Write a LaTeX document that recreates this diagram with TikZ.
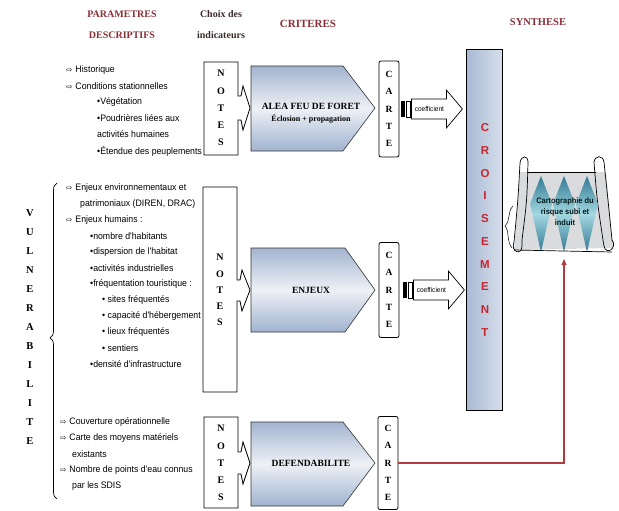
\documentclass[tikz,border=0pt]{standalone}
\usepackage{fontspec}
\setmainfont{Liberation Serif}
\newfontfamily\listfont[FakeStretch=0.93]{Liberation Sans}
\newfontfamily\symfont{DejaVu Sans}
\newfontfamily\barfont{Liberation Sans}
\usetikzlibrary{decorations.pathreplacing,arrows.meta,calc}

\definecolor{hdred}{HTML}{8A2E35}
\definecolor{hddark}{HTML}{3B2A2A}
\definecolor{critop}{HTML}{A3B4CF}
\definecolor{crimid}{HTML}{EEF1F6}
\definecolor{crbot}{HTML}{A0B3CF}
\definecolor{barleft}{HTML}{A9BAD4}
\definecolor{barright}{HTML}{D6DEEA}
\definecolor{crossred}{HTML}{C8262E}
\definecolor{linkred}{HTML}{B13A3C}
\definecolor{scrollgray}{HTML}{D9DBDD}
\definecolor{tealdark}{HTML}{1F6E8C}
\definecolor{teallight}{HTML}{9ED8E2}

\tikzset{
  hdr/.style={font=\bfseries\fontsize{10}{21}\selectfont, align=center, inner sep=0pt},
  listtxt/.style={font=\listfont\fontsize{9.4}{10}\selectfont, anchor=west, inner sep=0pt},
  letters/.style={font=\bfseries\fontsize{10}{17.2}\selectfont, align=center, inner sep=0pt},
  notesbox/.style={draw=black, line width=0.8pt, fill=white},
  cartebox/.style={draw=black, line width=0.8pt, rounded corners=2pt, fill=white, minimum width=20pt, inner sep=0pt},
  critshape/.style={draw=black!80, line width=0.6pt, top color=critop, bottom color=crbot, middle color=crimid},
  critlabel/.style={font=\bfseries\fontsize{9.5}{15}\selectfont, align=center, inner sep=0pt},
  coefarrow/.style={draw=black, line width=0.7pt, fill=white},
  redlink/.style={draw=linkred, line width=1.4pt},
  pics/coef/.style={code={
    \fill[black] (0,-8) rectangle (4,8);
    \draw[line width=0.6pt] (5,-8) rectangle (9,8);
    \draw[coefarrow] (10,-10) -- (45,-10) -- (45,-19) -- (61,0) -- (45,19) -- (45,10) -- (10,10) -- cycle;
    \node[font=\listfont\fontsize{7}{7}\selectfont, inner sep=0pt] at (28,0) {coefficient};
  }}
}

\begin{document}
\begin{tikzpicture}[x=1pt,y=-1pt]
\useasboundingbox (0,0) rectangle (619,511);

% column headings
\node[hdr, text=hdred] (hpar) at (122,25) {PARAMETRES\\DESCRIPTIFS};
\node[hdr, text=hddark] (hchoix) at (221,25) {Choix des\\indicateurs};
\node[hdr, text=hdred, font=\bfseries\fontsize{11}{12}\selectfont] (hcrit) at (308,24) {CRITERES};
\node[hdr, text=hdred, font=\bfseries\fontsize{10.5}{12}\selectfont] (hsyn) at (538,22) {SYNTHESE};

% descriptive parameters, first group
\newcommand{\arw}{{\symfont\fontsize{7.5}{7}\selectfont ⇨}\hspace{3pt}}
\node[listtxt] (p1) at (66,70) {\arw Historique};
\node[listtxt] (p2) at (66,86) {\arw Conditions stationnelles};
\node[listtxt] (p3) at (97,102) {•Végétation};
\node[listtxt] (p4) at (97,118) {•Poudrières liées aux};
\node[listtxt] (p5) at (97,134) {activités humaines};
\node[listtxt] (p6) at (97,151) {•Étendue des peuplements};

% second group
\node[listtxt] (q1) at (66,188) {\arw Enjeux environnementaux et};
\node[listtxt] (q2) at (80,204) {patrimoniaux (DIREN, DRAC)};
\node[listtxt] (q3) at (66,220) {\arw Enjeux humains :};
\node[listtxt] (q4) at (90,236) {•nombre d'habitants};
\node[listtxt] (q5) at (90,252) {•dispersion de l'habitat};
\node[listtxt] (q6) at (90,268) {•activités industrielles};
\node[listtxt] (q7) at (90,284) {•fréquentation touristique :};
\node[listtxt] (q8) at (102,300) {• sites fréquentés};
\node[listtxt] (q9) at (102,316) {• capacité d'hébergement};
\node[listtxt] (q10) at (102,332) {• lieux fréquentés};
\node[listtxt] (q11) at (102,348) {• sentiers};
\node[listtxt] (q12) at (90,364) {•densité d'infrastructure};

% third group
\node[listtxt] (r1) at (60,422) {\arw Couverture opérationnelle};
\node[listtxt] (r2) at (60,438) {\arw Carte des moyens matériels};
\node[listtxt] (r3) at (72,454) {existants};
\node[listtxt] (r4) at (60,470) {\arw Nombre de points d'eau connus};
\node[listtxt] (r5) at (72,486) {par les SDIS};

% vulnerability brace and label
\draw[line width=0.7pt, decorate, decoration={brace, amplitude=7pt, aspect=0.51}]
  (57,499) -- (57,183);
\node[letters, font=\bfseries\fontsize{10.5}{19}\selectfont] (vul) at (30,327)
  {V\\U\\L\\N\\E\\R\\A\\B\\I\\L\\I\\T\\E};

% indicator boxes with their small arrow tips
\draw[notesbox] (204,62) -- (238,62) -- (238,96) -- (241,96) -- (243,86) -- (250,108)
  -- (243,130) -- (241,120) -- (238,120) -- (238,155) -- (204,155) -- cycle;
\node[letters] (notes1) at (221,108) {N\\O\\T\\E\\S};

\draw[notesbox] (203,187) -- (237,187) -- (237,280) -- (240,280) -- (242,270) -- (250,290)
  -- (242,311) -- (240,301) -- (237,301) -- (237,392) -- (203,392) -- cycle;
\node[letters, font=\bfseries\fontsize{10}{16.2}\selectfont] (notes2) at (220,290) {N\\O\\T\\E\\S};

\draw[notesbox] (204,417) -- (238,417) -- (238,452) -- (241,452) -- (243,442) -- (250,463)
  -- (243,484) -- (241,474) -- (238,474) -- (238,508) -- (204,508) -- cycle;
\node[letters] (notes3) at (221,463) {N\\O\\T\\E\\S};

% criteria
\path[critshape] (251,66) -- (343,66) -- (375,108) -- (343,151) -- (251,151) -- cycle;
\node[critlabel] (alea) at (311,113) {ALEA FEU DE FORET\\[-3pt]{\fontsize{8}{10}\selectfont Éclosion + propagation}};

\path[critshape] (251,248) -- (345,248) -- (375,290) -- (345,332) -- (251,332) -- cycle;
\node[critlabel] (enjeux) at (311,290) {ENJEUX};

\path[critshape] (251,422) -- (343,422) -- (375,463) -- (343,506) -- (251,506) -- cycle;
\node[critlabel] (defend) at (311,463) {DEFENDABILITE};

% maps
\node[cartebox, minimum height=96pt] (carte1) at (389,109) {};
\node[letters, font=\bfseries\fontsize{9.5}{17.2}\selectfont] at (carte1) {C\\A\\R\\T\\E};
\node[cartebox, minimum height=95pt] (carte2) at (389,290) {};
\node[letters, font=\bfseries\fontsize{9.5}{17.2}\selectfont] at (carte2) {C\\A\\R\\T\\E};
\node[cartebox, minimum height=93pt] (carte3) at (388,463) {};
\node[letters, font=\bfseries\fontsize{9.5}{17.2}\selectfont] at (carte3) {C\\A\\R\\T\\E};

% crossing bar
\node[draw=black, line width=0.8pt, left color=barleft, right color=barright,
      minimum width=36pt, minimum height=361pt, inner sep=0pt] (crois) at (484,230) {};
\node[font=\barfont\bfseries\fontsize{11.5}{22.7}\selectfont, text=crossred, align=center, inner sep=0pt]
  (croislbl) at (485,230) {C\\R\\O\\I\\S\\E\\M\\E\\N\\T};

% weighted links into the crossing
\pic at ($(carte1.east)+(2,0)$) {coef};
\pic at ($(carte2.east)+(4,0)$) {coef};

% synthesis scroll
\node[minimum width=106pt, minimum height=100pt, inner sep=0pt] (scroll) at (564,208) {};
\begin{scope}
  \fill[scrollgray] (520,172) -- (606,172) -- (613,248) -- (514,250) -- cycle;
  \draw[line width=0.7pt] (527,172) -- (596,172);
  \draw[line width=0.7pt] (520,163) .. controls (518,200) .. (514,242);
  \draw[line width=0.7pt] (528,162) .. controls (527,200) .. (522,240);
  \draw[line width=0.7pt] (520,163) .. controls (521,155) and (528,155) .. (528,162);
  \draw[line width=0.7pt] (594,162) .. controls (597,200) .. (603,240);
  \draw[line width=0.7pt] (604,162) .. controls (608,200) .. (612,240);
  \draw[line width=0.7pt] (594,162) .. controls (595,155) and (603,155) .. (604,162);
  \draw[line width=0.7pt] (514,242) .. controls (510,252) and (522,256) .. (522,246) -- (522,240);
  \draw[line width=0.7pt] (612,240) .. controls (618,248) and (606,256) .. (604,246) -- (603,240);
  \draw[line width=0.7pt] (514,250) -- (612,252);
  \draw[line width=0.5pt] (513,206) .. controls (507,212) and (511,220) .. (505,226)
    .. controls (510,232) and (506,240) .. (512,248);
  \foreach \cx in {541,564,587}{
    \shade[top color=tealdark, bottom color=tealdark, middle color=teallight, opacity=0.9]
      (\cx,176) -- (\cx+11,204) -- (\cx,252) -- (\cx-11,204) -- cycle;
  }
\end{scope}
\node[font=\listfont\bfseries\fontsize{8}{11}\selectfont, text=black!80!teal, align=center, inner sep=0pt]
  (syntxt) at (565,212) {Cartographie du\\risque subi et\\induit};

% defendability map linked to the synthesis
\draw[redlink, -{Latex[length=7pt,width=6pt]}] (carte3.east) -| (scroll.south);

\end{tikzpicture}
\end{document}
